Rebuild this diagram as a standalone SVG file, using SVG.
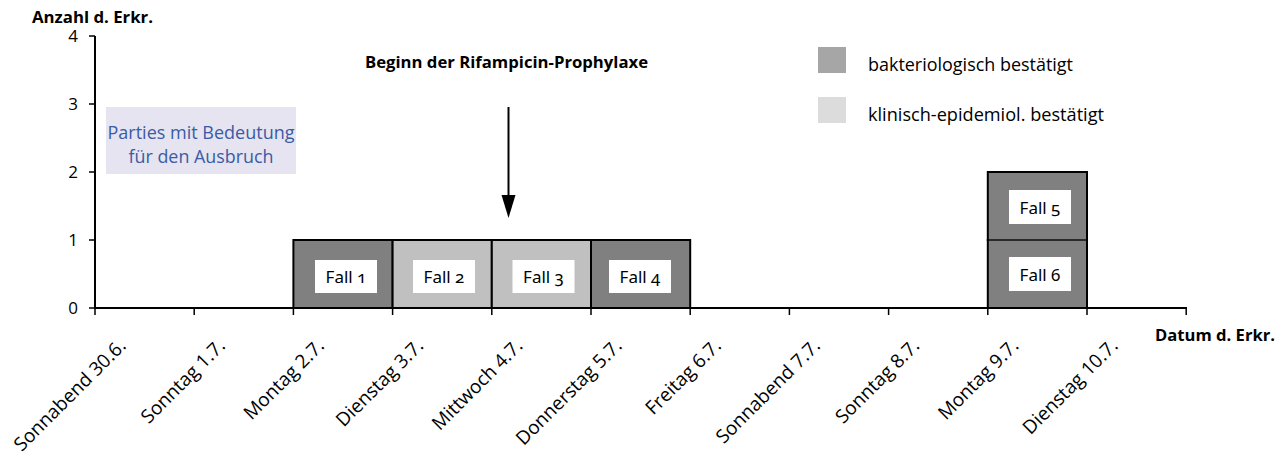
<svg xmlns="http://www.w3.org/2000/svg" width="1287" height="454" viewBox="0 0 1287 454">
<style>
text{font-family:"Open Sans","Noto Sans","DejaVu Sans",sans-serif;fill:#000}
.b{font-weight:bold;font-size:16px}
.ax{font-size:17px;text-anchor:end}
.dt{font-size:19px;text-anchor:end}
.lg{font-size:18px}
.fl{font-size:17px;text-anchor:middle;font-family:"Noto Sans","Open Sans",sans-serif;font-variant-numeric:oldstyle-nums}
.pt{font-size:18px;fill:#3b5ba5;text-anchor:middle}
.dark{fill:#808080;stroke:#000;stroke-width:2}
.light{fill:#c0c0c0;stroke:#000;stroke-width:2}
.lbl{fill:#fff}
.axis{stroke:#000;stroke-width:2;fill:none}
.tk{stroke:#000;stroke-width:1.5}
</style>
<rect width="1287" height="454" fill="#fff"/>

<g id="y-axis">
<text class="b" x="32" y="23" textLength="121" lengthAdjust="spacingAndGlyphs">Anzahl d. Erkr.</text>
<line class="axis" x1="95" y1="36" x2="95" y2="309"/>
<path class="tk" d="M89 36H95M89 104H95M89 172H95M89 240H95M89 308H95"/>
<text class="ax" x="78" y="42">4</text>
<text class="ax" x="78" y="110">3</text>
<text class="ax" x="78" y="178">2</text>
<text class="ax" x="78" y="246">1</text>
<text class="ax" x="78" y="314">0</text>
</g>

<g id="parties">
<rect x="106" y="107" width="190" height="67" fill="#e5e4f0"/>
<text class="pt" x="201" y="139" textLength="187" lengthAdjust="spacingAndGlyphs">Parties mit Bedeutung</text>
<text class="pt" x="201" y="163" textLength="145" lengthAdjust="spacingAndGlyphs">für den Ausbruch</text>
</g>

<g id="legend">
<rect x="818" y="47" width="28" height="26" fill="#a6a6a6"/>
<text class="lg" x="868" y="71" textLength="205" lengthAdjust="spacingAndGlyphs">bakteriologisch bestätigt</text>
<rect x="818" y="97" width="28" height="26" fill="#dcdcdc"/>
<text class="lg" x="868" y="121" textLength="236" lengthAdjust="spacingAndGlyphs">klinisch-epidemiol. bestätigt</text>
</g>

<g id="fall1">
<rect class="dark" x="293.4" y="240" width="99.2" height="68"/>
<rect class="lbl" x="315" y="260" width="62" height="33"/>
<text class="fl" x="346" y="283">Fall 1</text>
</g>
<g id="fall2">
<rect class="light" x="392.6" y="240" width="99.2" height="68"/>
<rect class="lbl" x="413" y="260" width="62" height="33"/>
<text class="fl" x="444" y="283">Fall 2</text>
</g>
<g id="fall3">
<rect class="light" x="491.8" y="240" width="99.2" height="68"/>
<rect class="lbl" x="512.5" y="260" width="62" height="33"/>
<text class="fl" x="543.5" y="283">Fall 3</text>
</g>
<g id="fall4">
<rect class="dark" x="591" y="240" width="99.2" height="68"/>
<rect class="lbl" x="609" y="260" width="62" height="33"/>
<text class="fl" x="640" y="283">Fall 4</text>
</g>
<g id="fall5">
<rect class="dark" x="987.8" y="172" width="99.2" height="68"/>
<rect class="lbl" x="1009" y="190" width="62" height="34"/>
<text class="fl" x="1040" y="214">Fall 5</text>
</g>
<g id="fall6">
<rect class="dark" x="987.8" y="240" width="99.2" height="68"/>
<rect class="lbl" x="1009" y="257" width="62" height="34"/>
<text class="fl" x="1040" y="281">Fall 6</text>
</g>
<line x1="988.8" y1="240" x2="1086" y2="240" stroke="#555" stroke-width="1"/>

<g id="x-axis">
<line class="axis" x1="94" y1="308" x2="1187" y2="308"/>
<path class="tk" d="M95 308V315M194.2 308V315M293.4 308V315M392.6 308V315M491.8 308V315M591 308V315M690.2 308V315M789.4 308V315M888.6 308V315M987.8 308V315M1087 308V315M1186.2 308V315"/>
<text class="b" x="1155" y="341" textLength="120" lengthAdjust="spacingAndGlyphs">Datum d. Erkr.</text>
<text class="dt" transform="translate(127,347) rotate(-45)">Sonnabend 30.6.</text>
<text class="dt" transform="translate(226.2,347) rotate(-45)">Sonntag 1.7.</text>
<text class="dt" transform="translate(325.4,347) rotate(-45)">Montag 2.7.</text>
<text class="dt" transform="translate(424.6,347) rotate(-45)">Dienstag 3.7.</text>
<text class="dt" transform="translate(523.8,347) rotate(-45)">Mittwoch 4.7.</text>
<text class="dt" transform="translate(623,347) rotate(-45)">Donnerstag 5.7.</text>
<text class="dt" transform="translate(722.2,347) rotate(-45)">Freitag 6.7.</text>
<text class="dt" transform="translate(821.4,347) rotate(-45)">Sonnabend 7.7.</text>
<text class="dt" transform="translate(920.6,347) rotate(-45)">Sonntag 8.7.</text>
<text class="dt" transform="translate(1019.8,347) rotate(-45)">Montag 9.7.</text>
<text class="dt" transform="translate(1119,347) rotate(-45)">Dienstag 10.7.</text>
</g>

<g id="prophylaxe">
<text class="b" x="506.5" y="68" text-anchor="middle" font-size="17" textLength="283" lengthAdjust="spacingAndGlyphs">Beginn der Rifampicin-Prophylaxe</text>
</g>

<g id="connectors">
<line x1="508.5" y1="107" x2="508.5" y2="198" stroke="#000" stroke-width="2"/>
<polygon points="501.5,195 515.5,195 508.5,218" fill="#000"/>
</g>
</svg>
